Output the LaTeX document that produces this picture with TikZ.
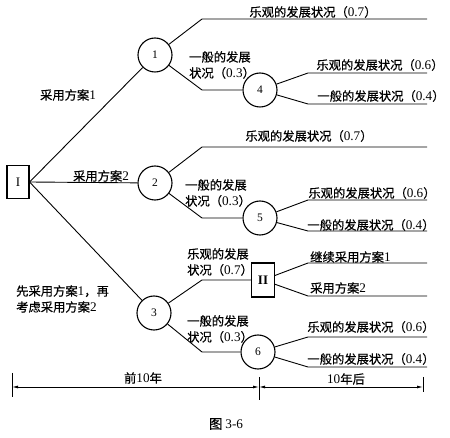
\documentclass[tikz,border=0pt]{standalone}
\usepackage{fontspec}
\setmainfont{Liberation Serif}
\newfontfamily\cjk[FakeBold=0.6]{Noto Sans CJK SC}
\usetikzlibrary{arrows.meta}
\newcommand\dg[1]{{\rmfamily\fontsize{13.2}{16}\selectfont #1}}
\begin{document}
\begin{tikzpicture}[x=1pt,y=-1pt,
  every node/.style={inner sep=0pt},
  chance/.style={draw, circle, minimum size=34pt, line width=1.1pt, font=\rmfamily\fontsize{11.5}{13}\selectfont},
  decision/.style={draw, rectangle, minimum width=22pt, minimum height=33pt, line width=1.1pt, font=\rmfamily\fontsize{13}{14}\selectfont},
  lab/.style={font=\cjk\fontsize{12.3}{16}\selectfont, align=left},
  br/.style={line width=0.9pt},
  dim/.style={line width=0.8pt},
  tip/.style={{Latex[length=6pt,width=3pt]}-{Latex[length=6pt,width=3pt]}}
]
\useasboundingbox (0,0) rectangle (450,438);

% nodes
\node[decision] (I) at (18,182) {I};
\node[chance] (n1) at (155,55) {1};
\node[chance] (n2) at (155,183) {2};
\node[chance] (n3) at (154,313) {3};
\node[chance] (n4) at (260,90) {4};
\node[chance] (n5) at (260,218) {5};
\node[decision, minimum width=23pt, minimum height=34pt, font=\rmfamily\bfseries\fontsize{13}{14}\selectfont] (II) at (263,280) {II};
\node[chance] (n6) at (258,352) {6};

% bend and end points
\coordinate (a1) at (202,19);  \coordinate (a1e) at (427,19);
\coordinate (b1) at (202,90);
\coordinate (a4) at (308,73);  \coordinate (a4e) at (427,73);
\coordinate (b4) at (308,104); \coordinate (b4e) at (427,104);
\coordinate (a2) at (202,147); \coordinate (a2e) at (427,147);
\coordinate (b2) at (202,218);
\coordinate (a5) at (308,200); \coordinate (a5e) at (427,200);
\coordinate (b5) at (308,231); \coordinate (b5e) at (427,231);
\coordinate (a3) at (202,280);
\coordinate (b3) at (202,352);
\coordinate (aII) at (308,263); \coordinate (aIIe) at (427,263);
\coordinate (bII) at (308,296); \coordinate (bIIe) at (427,296);
\coordinate (a6) at (308,337); \coordinate (a6e) at (427,337);
\coordinate (b6) at (308,367); \coordinate (b6e) at (427,367);

% connectors
\draw[br] (I.east) -- (n1);
\draw[br] (I.east) -- (n2);
\draw[br] (I.east) -- (n3);
\draw[br] (n1) -- (a1) -- (a1e);
\draw[br] (n1) -- (b1) -- (n4);
\draw[br] (n4) -- (a4) -- (a4e);
\draw[br] (n4) -- (b4) -- (b4e);
\draw[br] (n2) -- (a2) -- (a2e);
\draw[br] (n2) -- (b2) -- (n5);
\draw[br] (n5) -- (a5) -- (a5e);
\draw[br] (n5) -- (b5) -- (b5e);
\draw[br] (n3) -- (a3) -- (II);
\draw[br] (n3) -- (b3) -- (n6);
\draw[br] (II) -- (aII) -- (aIIe);
\draw[br] (II) -- (bII) -- (bIIe);
\draw[br] (n6) -- (a6) -- (a6e);
\draw[br] (n6) -- (b6) -- (b6e);

% labels
\node[lab] (l1) at (68,95) {采用方案\dg{1}};
\node[lab] (l2) at (101,176) {采用方案\dg{2}};
\node[lab, anchor=west] (l3) at (16,299) {先采用方案\dg{1}，再\\考虑采用方案\dg{2}};

\node[lab] (t1) at (313,12) {乐观的发展状况（\dg{0.7}）};
\node[lab, anchor=west] (t1b) at (189,65) {一般的发展\\状况（\dg{0.3}）};
\node[lab] (t4a) at (380,65) {乐观的发展状况（\dg{0.6}）};
\node[lab] (t4b) at (381,96) {一般的发展状况（\dg{0.4}）};

\node[lab] (t2) at (309,136) {乐观的发展状况（\dg{0.7}）};
\node[lab, anchor=west] (t2b) at (185,193) {一般的发展\\状况（\dg{0.3}）};
\node[lab] (t5a) at (372,193) {乐观的发展状况（\dg{0.6}）};
\node[lab] (t5b) at (371,225) {一般的发展状况（\dg{0.4}）};

\node[lab, anchor=west] (t3a) at (187,262) {乐观的发展\\状况（\dg{0.7}）};
\node[lab, anchor=west] (t3b) at (187,329) {一般的发展\\状况（\dg{0.3}）};
\node[lab, anchor=west] (tIIa) at (310,257) {继续采用方案\dg{1}};
\node[lab, anchor=west] (tIIb) at (310,288) {采用方案\dg{2}};
\node[lab] (t6a) at (371,327) {乐观的发展状况（\dg{0.6}）};
\node[lab] (t6b) at (371,359) {一般的发展状况（\dg{0.4}）};

% dimension line
\coordinate (d0) at (12,387);
\coordinate (d1) at (259,387);
\coordinate (d2) at (423,387);
\draw[dim] ([yshift=14pt]d0) -- ([yshift=-10pt]d0);
\draw[dim] ([yshift=10pt]d1) -- ([yshift=-13pt]d1);
\draw[dim] ([yshift=10pt]d2) -- ([yshift=-5pt]d2);
\draw[dim, tip] (d0) -- (d1);
\draw[dim, tip] (d1) -- (d2);
\node[lab] (p1) at (143,378) {前\dg{10}年};
\node[lab] (p2) at (346,379) {\dg{10}年后};

\node[lab, font=\cjk\fontsize{13.5}{16}\selectfont] (cap) at (226,424) {图 \dg{3-6}};
\end{tikzpicture}
\end{document}
